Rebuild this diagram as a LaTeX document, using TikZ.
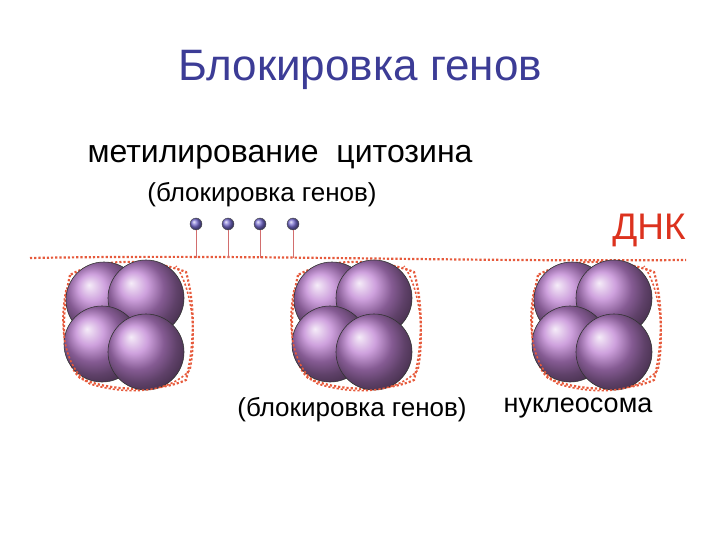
\documentclass[tikz,border=0pt]{standalone}
\usepackage{fontspec}
\setmainfont{Liberation Sans}
\begin{document}
\begin{tikzpicture}[x=1pt,y=-1pt,
  ball/.style={circle,draw=black!80,line width=0.6pt,inner sep=0pt,minimum size=76pt,
    shade,shading=ball,ball color={rgb,255:red,190;green,130;blue,210}},
  pin/.style={circle,draw=black!70,inner sep=0pt,minimum size=12pt,shading=ball,ball color={rgb,255:red,120;green,110;blue,210}},
  dna/.style={draw={rgb,255:red,230;green,90;blue,60},line width=2.2pt,dotted},
  stem/.style={draw={rgb,255:red,210;green,110;blue,110},line width=0.8pt}]
\useasboundingbox (0,0) rectangle (720,540);
\node[font=\fontsize{44}{50}\selectfont,text={rgb,255:red,60;green,60;blue,150}] (title) at (360,70) {Блокировка генов};
\node[font=\fontsize{32}{38}\selectfont] (met) at (280,157) {метилирование\ \ цитозина};
\node[font=\fontsize{26}{30}\selectfont] (blk1) at (262,195) {(блокировка генов)};
\node[font=\fontsize{37}{42}\selectfont,text={rgb,255:red,220;green,50;blue,30}] (dnk) at (649,230) {ДНК};
\node[font=\fontsize{26}{30}\selectfont] (blk2) at (352,410) {(блокировка генов)};
\node[font=\fontsize{27}{32}\selectfont] (nuc) at (578,408) {нуклеосома};
\coordinate (d1) at (30,258); \coordinate (d2) at (686,260);
\draw[dna] (d1) .. controls (250,254) and (450,262) .. (d2);
\foreach \x/\n in {196/a,228/b,260/c,293/d}{
  \coordinate (s\n) at (\x,258);
  \node[pin] (p\n) at (\x,224) {};
  \draw[stem] (p\n) -- (s\n);
}
\foreach \dx/\k in {0/1,228/2,468/3}{
  \begin{scope}[xshift=\dx]
  \draw[dna] (70,275) .. controls (60,320) and (62,360) .. (80,378) .. controls (110,392) and (160,392) .. (186,380)
     .. controls (196,340) and (194,300) .. (186,272) .. controls (150,258) and (100,258) .. cycle;
  \node[ball] (a\k) at (104,300) {};
  \node[ball] (b\k) at (146,298) {};
  \node[ball] (c\k) at (102,344) {};
  \node[ball] (e\k) at (146,352) {};
  \draw[dna,line width=1.6pt] (66,290) .. controls (58,330) and (66,370) .. (90,384) .. controls (130,396) and (170,392) .. (190,370)
     .. controls (198,330) and (190,285) .. (176,266);
  \end{scope}
}
\end{tikzpicture}
\end{document}
